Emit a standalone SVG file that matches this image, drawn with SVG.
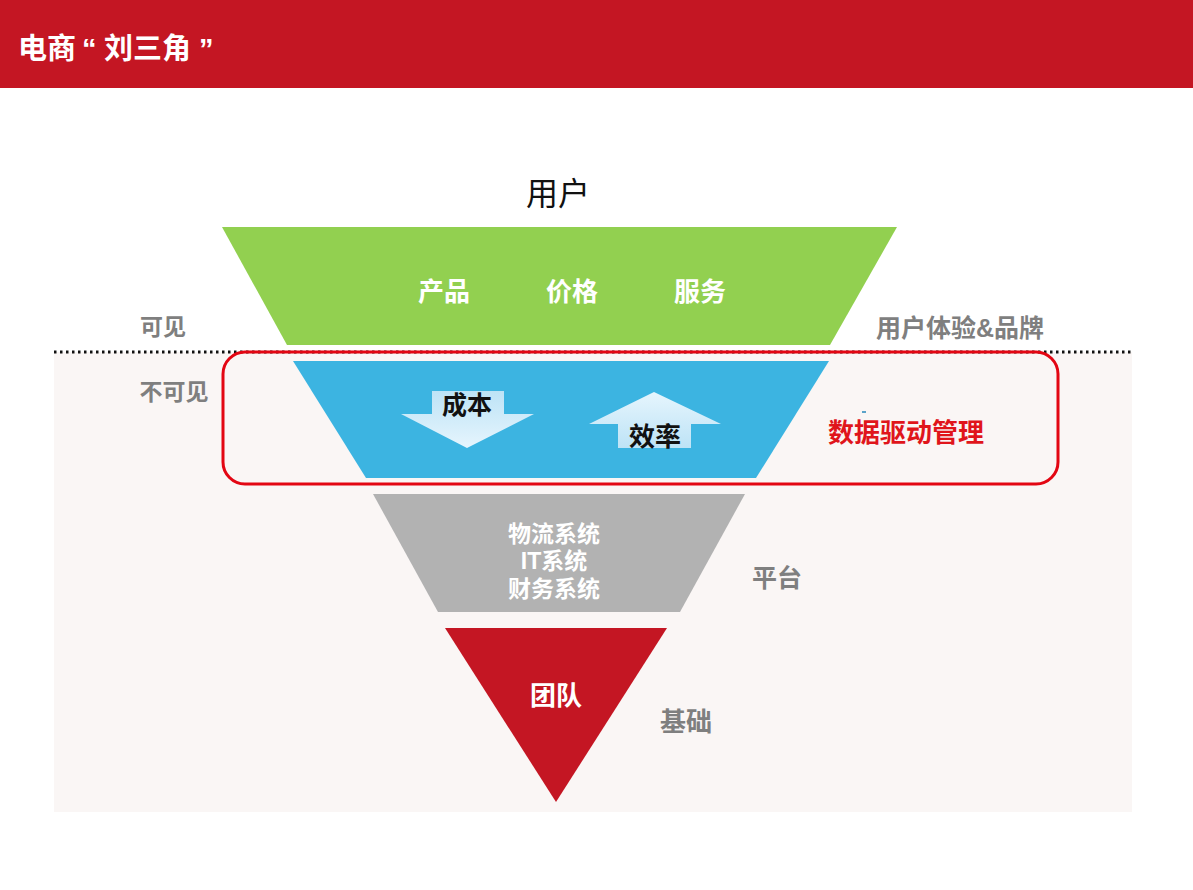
<svg xmlns="http://www.w3.org/2000/svg" width="1193" height="890" viewBox="0 0 1193 890">
<defs>
<style>
.t{font-family:"Liberation Sans","Noto Sans CJK SC",sans-serif;font-weight:bold;text-anchor:middle}
.w{fill:#FFFFFF}
.g{fill:#7F7F7F;font-size:25px}
.k{fill:#111111;font-size:25px}
</style>
<linearGradient id="gd" x1="0" y1="0" x2="0" y2="1">
<stop offset="0" stop-color="#BDE3F6"/>
<stop offset="1" stop-color="#E6F5FD"/>
</linearGradient>
<linearGradient id="gu" x1="0" y1="0" x2="0" y2="1">
<stop offset="0" stop-color="#E6F5FD"/>
<stop offset="1" stop-color="#BDE3F6"/>
</linearGradient>
</defs>
<rect x="0" y="0" width="1193" height="890" fill="#FFFFFF"/>
<rect x="0" y="0" width="1193" height="88" fill="#C41623"/>
<text y="59" class="t w" style="text-anchor:start;font-size:29px"><tspan x="18">电商</tspan><tspan x="82">“</tspan><tspan x="104">刘三角</tspan><tspan x="199">”</tspan></text>
<rect x="54" y="352" width="1078" height="460" fill="#FAF6F5"/>
<line x1="54" y1="352" x2="1132" y2="352" stroke="#111" stroke-width="3" stroke-dasharray="2.5 3.5"/>
<text x="558" y="205" style="font-family:'Liberation Sans','Noto Sans CJK SC',sans-serif;font-size:32px;text-anchor:middle" fill="#111">用户</text>
<g id="green">
<polygon points="222,227 897,227 830,345 287,345" fill="#92D050"/>
<text x="444" y="301" class="t w" style="font-size:26px">产品</text>
<text x="572" y="301" class="t w" style="font-size:26px">价格</text>
<text x="700" y="301" class="t w" style="font-size:26px">服务</text>
</g>
<g id="blue">
<polygon points="293,361 829,361 756,478 366,478" fill="#3CB4E1"/>
<polygon points="432,391 504,391 504,414 534,414 467,448 401,414 432,414" fill="url(#gd)"/>
<text x="467" y="414" class="t k">成本</text>
<polygon points="654,392 721,424 691,424 691,448 618,448 618,424 589,424" fill="url(#gu)"/>
<text x="655" y="446" class="t k" style="font-size:26px">效率</text>
</g>
<g id="gray">
<polygon points="373,494 745,494 680,612 438,612" fill="#B2B2B2"/>
<text x="554" y="542" class="t w" style="font-size:23px">物流系统</text>
<text x="554" y="569" class="t w" style="font-size:23px">IT系统</text>
<text x="554" y="597" class="t w" style="font-size:23px">财务系统</text>
</g>
<g id="team">
<polygon points="445,628 667,628 556,802" fill="#C41623"/>
<text x="556" y="705" class="t w" style="font-size:26px">团队</text>
</g>
<g id="labels">
<text x="163" y="335" class="t g" style="font-size:23px">可见</text>
<text x="174" y="400" class="t g" style="font-size:23px">不可见</text>
<text x="960" y="337" class="t g">用户体验&amp;品牌</text>
<text x="777" y="587" class="t g">平台</text>
<text x="686" y="731" class="t g" style="font-size:26px">基础</text>
<rect x="862" y="411" width="4" height="2" fill="#5BA3C9"/>
<text x="906" y="442" class="t" style="fill:#E0151B;font-size:26px">数据驱动管理</text>
</g>
<g id="connectors">
<rect x="223" y="352" width="835" height="132" rx="22" fill="none" stroke="#E30613" stroke-width="3"/>
</g>
</svg>
